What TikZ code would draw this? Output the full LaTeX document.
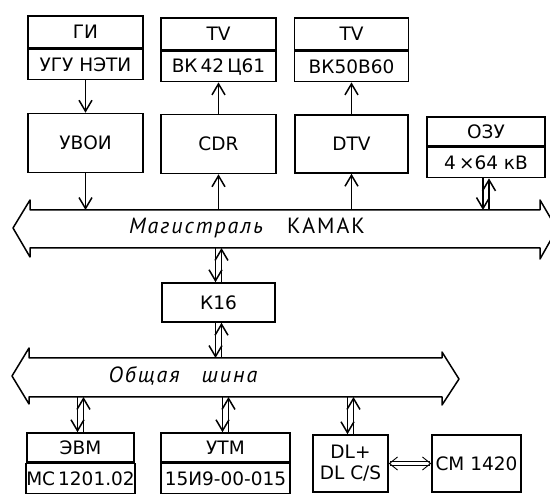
\documentclass[tikz,border=0pt]{standalone}
\usepackage{fontspec}
\setmainfont{DejaVu Sans}
\newfontfamily\busfont[LetterSpace=9]{PT Sans}
\usetikzlibrary{arrows.meta, positioning}

\begin{document}
\begin{tikzpicture}[x=1pt, y=-1pt,
		blk/.style = {draw, line width=1.6pt, inner sep=0pt, font=\fontsize{18.5}{21}\selectfont},
		bus/.style = {draw, line width=1.5pt, line join=round},
		lnk/.style = {line width=1.3pt, -{Straight Barb[length=11pt, width=13pt, line width=1.5pt]}},
		bustext/.style = {font=\busfont\fontsize{22}{25}\selectfont}]
	\useasboundingbox (0,0) rectangle (550,494);
	% upper row
	\node[blk, minimum width=115pt, minimum height=32pt] (gi) at (85.5,32) {ГИ};
	\node[blk, minimum width=115pt, minimum height=30pt, below=0pt of gi] (giN) {УГУ НЭТИ};
	\node[blk, minimum width=115pt, minimum height=32pt] (tvA) at (218.5,34) {TV};
	\node[blk, minimum width=115pt, minimum height=30pt, below=0pt of tvA] (tvAN) {ВК\,42\,Ц61};
	\node[blk, minimum width=114pt, minimum height=32pt] (tvB) at (351.5,34) {TV};
	\node[blk, minimum width=114pt, minimum height=30pt, below=0pt of tvB] (tvBN) {ВК50В60};
	% middle row
	\node[blk, minimum width=115pt, minimum height=59pt] (uvoi) at (85.5,143) {УВОИ};
	\node[blk, minimum width=115pt, minimum height=59pt] (cdr) at (218.5,144) {CDR};
	\node[blk, minimum width=113pt, minimum height=58pt] (dtv) at (351.5,144) {DTV};
	\node[blk, minimum width=118pt, minimum height=29pt] (ozu) at (486,131.5) {ОЗУ};
	\node[blk, minimum width=118pt, minimum height=30pt, below=0pt of ozu] (ozuN) {4\,×64 кВ};
	% bus KAMAK
	\coordinate (kamakT) at (0,210);
	\coordinate (kamakB) at (0,248);
	\draw[bus] (13,228) -- (30,200) -- (30,210) -- (540,210) -- (540,200) -- (557,229)
		-- (540,259) -- (540,248) -- (30,248) -- (30,257) -- cycle;
	\node[bustext] (kamak) at (247,228) {\textit{Магистраль}\quad КАМАК};
	\node[blk, minimum width=113pt, minimum height=39pt] (k16) at (218.5,302.5) {К16};
	% common bus
	\coordinate (obshT) at (0,358);
	\coordinate (obshB) at (0,397);
	\draw[bus] (12,376) -- (29,348) -- (29,358) -- (442,358) -- (442,352) -- (459,379)
		-- (442,405) -- (442,397) -- (29,397) -- (29,404) -- cycle;
	\node[bustext] (obsh) at (184,376) {\textit{Общая\quad шина}};
	% lower row
	\node[blk, minimum width=107pt, minimum height=29pt] (evm) at (80.5,447.5) {ЭВМ};
	\node[blk, minimum width=107pt, minimum height=30pt, below=0pt of evm] (evmN) {МС\,1201.02};
	\node[blk, minimum width=129pt, minimum height=29pt] (utm) at (225.5,447.5) {УТМ};
	\node[blk, minimum width=129pt, minimum height=30pt, below=0pt of utm] (utmN) {15И9-00-015};
	\node[blk, minimum width=75pt, minimum height=57pt, align=center] (dl) at (350.5,463.5) {DL+\\DL C/S};
	\node[blk, minimum width=89pt, minimum height=57pt] (cm) at (476.5,463.5) {СМ 1420};
	% single links
	\draw[lnk] (giN.south) -- (uvoi.north);
	\draw[lnk] (uvoi.south) -- (uvoi.south |- kamakT);
	\draw[lnk] (cdr.south |- kamakT) -- (cdr.south);
	\draw[lnk] (cdr.north) -- (tvAN.south);
	\draw[lnk] (dtv.south |- kamakT) -- (dtv.south);
	\draw[lnk] (dtv.north) -- (tvBN.south);
	% two-way links
	\draw[lnk] ([xshift=-3pt]ozuN.south) -- ([xshift=-3pt]ozuN.south |- kamakT);
	\draw[lnk] ([xshift=3pt]ozuN.south |- kamakT) -- ([xshift=3pt]ozuN.south);
	\draw[lnk] ([xshift=-3pt]k16.north |- kamakB) -- ([xshift=-3pt]k16.north);
	\draw[lnk] ([xshift=3pt]k16.north) -- ([xshift=3pt]k16.north |- kamakB);
	\draw[lnk] ([xshift=-3pt]k16.south) -- ([xshift=-3pt]k16.south |- obshT);
	\draw[lnk] ([xshift=3pt]k16.south |- obshT) -- ([xshift=3pt]k16.south);
	\draw[lnk] ([xshift=-3pt]evm.north |- obshB) -- ([xshift=-3pt]evm.north);
	\draw[lnk] ([xshift=3pt]evm.north) -- ([xshift=3pt]evm.north |- obshB);
	\draw[lnk] ([xshift=-3pt]utm.north |- obshB) -- ([xshift=-3pt]utm.north);
	\draw[lnk] ([xshift=3pt]utm.north) -- ([xshift=3pt]utm.north |- obshB);
	\draw[lnk] ([xshift=-3pt]dl.north |- obshB) -- ([xshift=-3pt]dl.north);
	\draw[lnk] ([xshift=3pt]dl.north) -- ([xshift=3pt]dl.north |- obshB);
	\draw[line width=0.9pt, double distance=2.5pt, {Straight Barb[length=8pt, width=13pt]}-{Straight Barb[length=8pt, width=13pt]}] (dl.east) -- (cm.west);
\end{tikzpicture}
\end{document}
